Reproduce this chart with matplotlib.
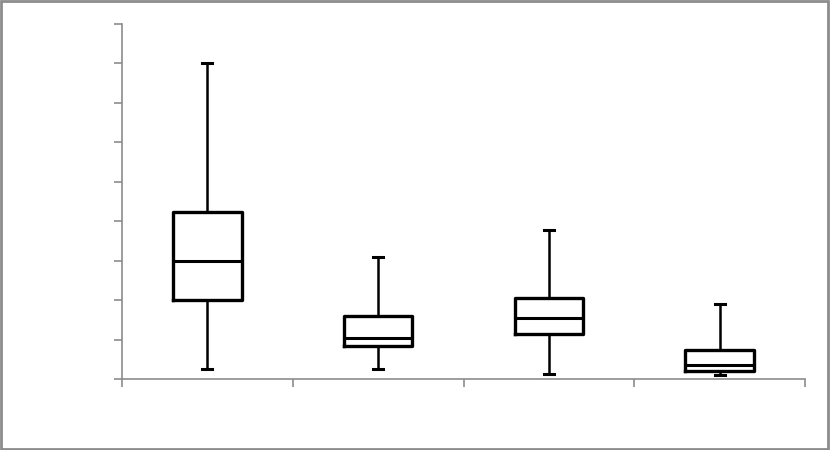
import matplotlib
matplotlib.use("Agg")
import matplotlib.pyplot as plt
from matplotlib.patches import Rectangle

categories = ["A", "B", "C", "D"]
whisker_low = [0.25, 0.25, 0.13, 0.10]
q1 = [2.0, 0.84, 1.14, 0.20]
median = [3.0, 1.04, 1.55, 0.35]
q3 = [4.23, 1.60, 2.05, 0.74]
whisker_high = [8.0, 3.09, 3.78, 1.90]

fig = plt.figure(figsize=(8.3, 4.5), dpi=100)
ax = fig.add_axes([122/830, 1-379/450, (805-122)/830, (379-24)/450])

stats = []
for i, c in enumerate(categories):
    stats.append(dict(label=c, whislo=whisker_low[i], q1=q1[i], med=median[i],
                      q3=q3[i], whishi=whisker_high[i], fliers=[]))

ax.bxp(stats, positions=[1, 2, 3, 4], widths=0.4, showfliers=False,
       boxprops=dict(color="black", linewidth=2.4),
       medianprops=dict(color="black", linewidth=2.2),
       whiskerprops=dict(color="black", linewidth=1.8),
       capprops=dict(color="black", linewidth=2.2), capwidths=0.06)

ax.set_xlim(0.5, 4.5)
ax.set_ylim(0, 9)
ax.set_xticks([0.5, 1.5, 2.5, 3.5, 4.5])
ax.set_yticks(range(10))
ax.set_xticklabels([])
ax.set_yticklabels([])
ax.tick_params(axis="both", color="#8c8c8c", length=6, width=1.2)
for s in ["top", "right"]:
    ax.spines[s].set_visible(False)
for s in ["left", "bottom"]:
    ax.spines[s].set_color("#8c8c8c")
    ax.spines[s].set_linewidth(1.2)

fig.patches.append(Rectangle((0.001, 0.002), 0.997, 0.995, transform=fig.transFigure,
                             fill=False, edgecolor="#8c8c8c", linewidth=2))

fig.savefig("out.png", dpi=100)
